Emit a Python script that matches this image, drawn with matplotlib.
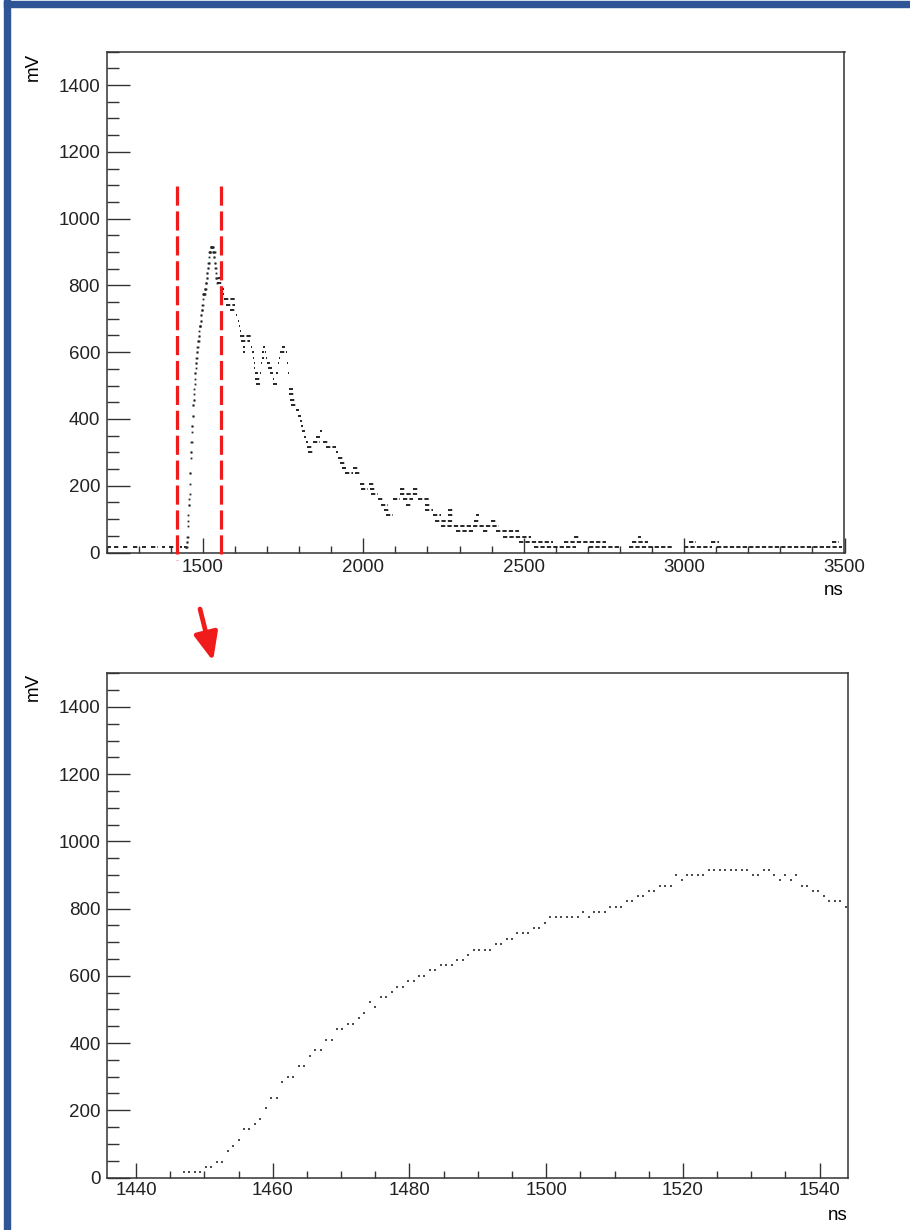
import matplotlib.pyplot as plt
from matplotlib.patches import Rectangle
from matplotlib.ticker import MultipleLocator
import numpy as np

plt.rcParams['font.family'] = ['Liberation Sans', 'DejaVu Sans']

# digitizer samples across the pulse front, 0.8 ns apart
sample_ns = 0.8
first_sample_ns = 1447.0
front_mv = [16, 16, 16, 16, 31, 31, 47, 47, 79, 95,
            111, 143, 143, 159, 175, 206, 237, 237, 284, 300,
            300, 331, 331, 362, 379, 379, 409, 409, 442, 442,
            458, 458, 474, 490, 521, 506, 537, 537, 553, 568,
            568, 584, 584, 600, 600, 616, 616, 632, 632, 632,
            648, 648, 663, 678, 678, 678, 678, 694, 694, 710,
            710, 726, 726, 726, 742, 742, 758, 774, 774, 774,
            774, 774, 774, 790, 774, 790, 790, 790, 806, 806,
            806, 822, 822, 837, 837, 853, 853, 868, 868, 868,
            900, 884, 900, 900, 900, 900, 916, 916, 916, 916,
            916, 916, 916, 916, 900, 900, 916, 916, 900, 884,
            900, 884, 900, 868, 868, 853, 853, 837, 822, 822,
            822, 806]

# rest of the record as runs of constant ADC level: (start ns, end ns, mV)
baseline_runs = [(1205, 1214, 16), (1224, 1240, 16), (1250, 1268, 16),
                 (1283, 1300, 16), (1310, 1322, 16), (1338, 1360, 16),
                 (1372, 1382, 16), (1395, 1412, 16), (1428, 1434, 16),
                 (1440, 1446, 16)]
tail_runs = [(1544, 1560, 806), (1546, 1552, 822), (1555, 1565, 790),
             (1560, 1566, 774), (1566, 1600, 758), (1572, 1600, 742),
             (1584, 1601, 726), (1602, 1606, 710), (1608, 1613, 694),
             (1612, 1616, 678), (1614, 1618, 663), (1617, 1650, 648),
             (1620, 1648, 632), (1625, 1630, 616), (1626, 1630, 600),
             (1650, 1654, 616), (1652, 1658, 600), (1657, 1660, 584),
             (1658, 1662, 568), (1660, 1663, 553), (1662, 1672, 537),
             (1663, 1677, 521), (1666, 1678, 506), (1677, 1681, 537),
             (1680, 1683, 568), (1683, 1689, 584), (1685, 1689, 600),
             (1688, 1693, 616), (1692, 1697, 600), (1696, 1700, 584),
             (1699, 1708, 568), (1703, 1714, 553), (1708, 1719, 537),
             (1717, 1723, 521), (1718, 1731, 506), (1727, 1734, 537),
             (1733, 1737, 568), (1737, 1740, 584), (1740, 1755, 600),
             (1745, 1755, 616), (1759, 1763, 600), (1761, 1764, 568),
             (1764, 1767, 537), (1767, 1782, 490), (1768, 1786, 474),
             (1770, 1786, 458), (1776, 1792, 442), (1791, 1800, 426),
             (1797, 1807, 410), (1802, 1808, 395), (1806, 1812, 379),
             (1810, 1818, 363), (1816, 1822, 347), (1820, 1826, 331),
             (1823, 1843, 316), (1828, 1843, 300), (1843, 1864, 331),
             (1854, 1864, 347), (1864, 1870, 363), (1875, 1890, 331),
             (1885, 1916, 316), (1916, 1922, 300), (1921, 1937, 284),
             (1926, 1942, 268), (1932, 1947, 253), (1942, 1968, 237),
             (1968, 1984, 253), (1974, 1994, 237), (1989, 2004, 206),
             (1994, 2015, 190), (2018, 2035, 206), (2020, 2040, 190),
             (2025, 2046, 175), (2046, 2061, 159), (2056, 2077, 143),
             (2066, 2082, 127), (2072, 2092, 111), (2092, 2113, 159),
             (2113, 2131, 190), (2154, 2175, 190), (2113, 2175, 175),
             (2123, 2154, 159), (2170, 2206, 159), (2134, 2149, 143),
             (2191, 2211, 143), (2191, 2217, 127), (2263, 2279, 127),
             (2217, 2243, 111), (2263, 2284, 111), (2351, 2362, 111),
             (2222, 2284, 95), (2346, 2362, 95), (2398, 2414, 95),
             (2242, 2424, 79), (2289, 2341, 63), (2372, 2393, 63),
             (2414, 2486, 63), (2434, 2523, 47), (2658, 2673, 47),
             (2855, 2865, 47), (2486, 2590, 31), (2626, 2756, 31),
             (2839, 2886, 31), (3016, 3037, 31), (3083, 3109, 31),
             (3462, 3483, 31), (2533, 2663, 16), (2704, 2798, 16),
             (2829, 2964, 16), (3000, 3088, 16), (3104, 3493, 16)]

# window shown enlarged in the lower pad
window_ns = [1418, 1556]

front_t = first_sample_ns + sample_ns * np.arange(len(front_mv))
red = '#f01c1c'
frame = '#333333'
ink = '#262626'

fig = plt.figure(figsize=(9.1, 12.3), dpi=100)
W, H = 910.0, 1230.0
ax1 = fig.add_axes([106.7 / W, 1 - 552.5 / H, 737.8 / W, 500.8 / H])
ax2 = fig.add_axes([107.3 / W, 1 - 1177.5 / H, 741.0 / W, 504.2 / H])

# full record: level runs as dotted dashes, the front as single dots
runs = baseline_runs + tail_runs
r0, r1, rv = zip(*runs)
ax1.hlines(rv, r0, r1, colors=ink, lw=1.4, linestyles=(0, (2.2, 1.1)))
ax1.plot(front_t, front_mv, ls='none', marker='s', ms=1.3, mew=0, color=ink)
ax1.vlines(window_ns, 1097, -22, colors=red, lw=2.3,
           linestyles=(0, (6.0, 1.8)), clip_on=False, zorder=5)
ax1.set_xlim(1200, 3500)
ax1.xaxis.set_major_locator(MultipleLocator(500))
ax1.xaxis.set_minor_locator(MultipleLocator(100))

# zoom on the leading edge: individual samples
ax2.plot(front_t, front_mv, ls='none', marker='s', ms=1.8, mew=0, color='#4d4d4d')
ax2.set_xlim(1435.8, 1544.2)
ax2.xaxis.set_major_locator(MultipleLocator(20))
ax2.xaxis.set_minor_locator(MultipleLocator(5))

for ax in (ax1, ax2):
    ax.set_ylim(0, 1500)
    ax.yaxis.set_major_locator(MultipleLocator(200))
    ax.yaxis.set_minor_locator(MultipleLocator(50))
    for sp in ax.spines.values():
        sp.set_color(frame)
        sp.set_linewidth(1.1)
    ax.tick_params(which='both', direction='in', top=False, right=False,
                   color=frame, labelcolor='#222222', labelsize=13.5, width=1.0)
    ax.tick_params(axis='y', which='major', length=16.3, pad=4.8)
    ax.tick_params(axis='y', which='minor', length=8.4)
    ax.tick_params(axis='x', which='major', length=10.8)
    ax.tick_params(axis='x', which='minor', length=5.4)
ax1.tick_params(axis='x', which='major', pad=5.0)
ax2.tick_params(axis='x', which='major', pad=3.5)

# axis titles, ROOT style (at the far ends of the axes)
fig.text(33 / W, 1 - 53 / H, 'mV', rotation=90, ha='center', va='top', fontsize=13.5)
fig.text(33 / W, 1 - 673 / H, 'mV', rotation=90, ha='center', va='top', fontsize=13.5)
fig.text(844 / W, 1 - 595 / H, 'ns', ha='right', va='baseline', fontsize=13.5)
fig.text(848 / W, 1 - 1220 / H, 'ns', ha='right', va='baseline', fontsize=13.5)

# arrow from the marked window down to the zoomed pad
ax1.annotate('', xy=(213, H - 661), xycoords='figure pixels',
             xytext=(200, H - 609), textcoords='figure pixels',
             arrowprops=dict(arrowstyle='-|>,head_length=0.7,head_width=0.3',
                             color=red, lw=3.4, mutation_scale=24,
                             shrinkA=0, shrinkB=0))

# slide border
blue = '#2f5597'
fig.patches.append(Rectangle((4 / W, 0), 6 / W, 1, transform=fig.transFigure,
                             color=blue, zorder=0))
fig.patches.append(Rectangle((4 / W, 1 - 7 / H), 1 - 4 / W, 6 / H,
                             transform=fig.transFigure, color=blue, zorder=0))

fig.savefig('out.png', dpi=100)
